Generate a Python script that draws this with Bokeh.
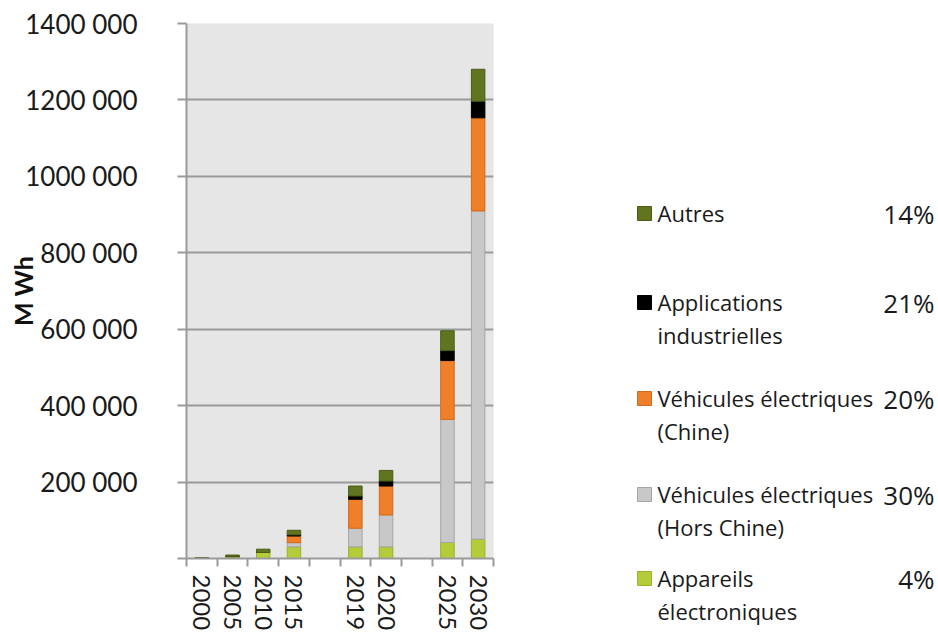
from bokeh.plotting import figure
from bokeh.models import ColumnDataSource, Range1d, FixedTicker
from bokeh.layouts import row
from bokeh.core.properties import value
from bokeh.embed import file_html
from bokeh.resources import INLINE

# ---------------- data ----------------
slots = ["2000", "2005", "2010", "2015", "", "2019", "2020", " ", "2025", "2030"]
years = ["2000", "2005", "2010", "2015", "2019", "2020", "2025", "2030"]

appareils = [1000, 5000, 15700, 30500, 30500, 30500, 42000, 50600]
ve_hors_chine = [0, 0, 0, 11000, 48700, 83500, 322000, 859000]
ve_chine = [0, 0, 0, 17400, 75700, 75700, 154000, 243600]
applications = [0, 0, 0, 3000, 8700, 13000, 26000, 43500]
autres = [1500, 4000, 8700, 12000, 26000, 27800, 52000, 83500]

series_keys = ["appareils", "ve_hors_chine", "ve_chine", "applications", "autres"]
legend_labels = ["Autres", "Applications\nindustrielles", "Véhicules électriques\n(Chine)",
                 "Véhicules électriques\n(Hors Chine)", "Appareils\nélectroniques"]
legend_pcts = ["14%", "21%", "20%", "30%", "4%"]

y_ticks = [0, 200000, 400000, 600000, 800000, 1000000, 1200000, 1400000]


def fmt(t):
    if t == 0:
        return ""
    thousands, rest = divmod(t, 1000)
    return f"{thousands} {rest:03d}"


# ---------------- styles ----------------
fill_colors = ["#b5cc3a", "#c8c8c8", "#f07f2a", "#000000", "#617420"]
line_colors = ["#9bb02c", "#a5a5a5", "#d06a1c", "#000000", "#4c5c16"]
legend_order_colors = list(reversed(fill_colors))
legend_order_lines = list(reversed(line_colors))

TOTAL_W, TOTAL_H = 936, 633
CHART_W = 508

x_pos = [slots.index(y) + 0.5 for y in years]
source = ColumnDataSource(dict(x=x_pos, appareils=appareils, ve_hors_chine=ve_hors_chine,
                               ve_chine=ve_chine, applications=applications, autres=autres))

p = figure(width=CHART_W, height=TOTAL_H, output_backend="svg", toolbar_location=None,
           x_range=Range1d(0, len(slots)), y_range=Range1d(0, 1400000),
           min_border_left=186, min_border_right=15, min_border_top=23, min_border_bottom=75)
p.frame_align = False
p.background_fill_color = "#e6e6e6"
p.border_fill_color = "white"
p.outline_line_color = None

p.vbar_stack(series_keys, x="x", width=0.44, source=source,
             fill_color=fill_colors, line_color=line_colors, line_width=1)

# y axis
p.yaxis.ticker = FixedTicker(ticks=y_ticks)
p.yaxis.major_label_overrides = {t: fmt(t) for t in y_ticks}
p.yaxis.major_label_text_font = "Lato"
p.yaxis.major_label_text_font_size = "26px"
p.yaxis.major_label_text_color = "#1a1a1a"
p.yaxis.major_label_standoff = 40
p.yaxis.axis_line_color = "#9a9a9a"
p.yaxis.axis_line_width = 2
p.yaxis.major_tick_line_color = "#9a9a9a"
p.yaxis.major_tick_line_width = 2
p.yaxis.major_tick_out = 9
p.yaxis.major_tick_in = 0
p.yaxis.minor_tick_line_color = None
p.yaxis.axis_label = "M Wh"
p.yaxis.axis_label_text_font = "Lato"
p.yaxis.axis_label_text_font_style = "bold"
p.yaxis.axis_label_text_font_size = "25px"
p.yaxis.axis_label_text_color = "#111111"
p.yaxis.axis_label_standoff = -16

# x axis: labels at slot centres, tick marks between slots
centers = [i + 0.5 for i in range(len(slots))]
bounds = list(range(len(slots) + 1))
p.xaxis.ticker = FixedTicker(ticks=centers, minor_ticks=bounds)
p.xaxis.major_label_overrides = {c: s.strip() for c, s in zip(centers, slots)}
p.xaxis.major_label_orientation = "vertical"
p.xaxis.major_label_text_font = "Lato"
p.xaxis.major_label_text_font_size = "24px"
p.xaxis.major_label_text_color = "#1a1a1a"
p.xaxis.major_label_standoff = 8
p.xaxis.major_tick_line_color = None
p.xaxis.major_tick_out = 0
p.xaxis.major_tick_in = 0
p.xaxis.minor_tick_line_color = "#9a9a9a"
p.xaxis.minor_tick_line_width = 2
p.xaxis.minor_tick_out = 8
p.xaxis.minor_tick_in = 0
p.xaxis.axis_line_color = "#9a9a9a"
p.xaxis.axis_line_width = 2

p.xgrid.grid_line_color = None
p.ygrid.ticker = FixedTicker(ticks=y_ticks)
p.ygrid.grid_line_color = "#9a9a9a"
p.ygrid.grid_line_width = 2

# ---------------- legend panel ----------------
LW = TOTAL_W - CHART_W
lg = figure(width=LW, height=TOTAL_H, output_backend="svg", toolbar_location=None,
            x_range=Range1d(0, LW), y_range=Range1d(TOTAL_H, 0),
            x_axis_location=None, y_axis_location=None, min_border=0)
lg.frame_align = False
lg.outline_line_color = None
lg.grid.grid_line_color = None
lg.background_fill_color = "white"
lg.border_fill_color = "white"

row_y = [213, 302, 398, 494, 578]
sq_x = 136
txt_x = 149
pct_x = 426

lsrc = ColumnDataSource(dict(y=row_y, label=legend_labels, pct=legend_pcts,
                             fc=legend_order_colors, lc=legend_order_lines,
                             ytop=[y - 16 for y in row_y]))
lg.rect(x=sq_x, y="y", width=14, height=14, fill_color="fc", line_color="lc", source=lsrc)
lg.text(x=txt_x, y="ytop", text="label", source=lsrc, text_font=value("Open Sans"),
        text_font_size="22px", text_baseline="top", text_color="#1a1a1a", text_line_height=1.1)
lg.text(x=pct_x, y="y", text="pct", source=lsrc, text_font=value("Open Sans"),
        text_font_size="26px", text_baseline="middle", text_align="right", text_color="#1a1a1a")

layout = row(p, lg)
open("out.html", "w").write(file_html(layout, INLINE))
